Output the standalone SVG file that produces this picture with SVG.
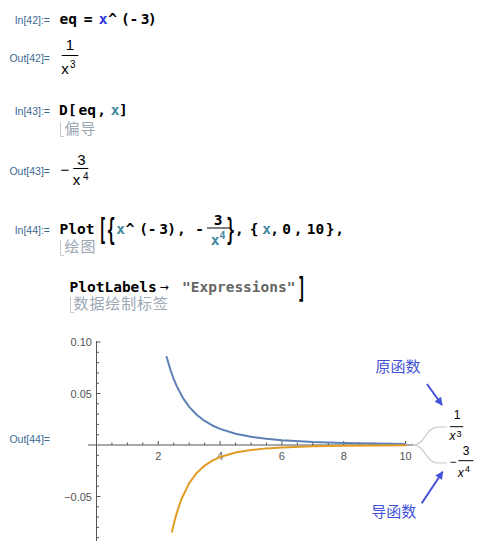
<svg xmlns="http://www.w3.org/2000/svg" width="490" height="546" viewBox="0 0 490 546">
<style>
.lbl{font-family:"Liberation Sans",Arial,sans-serif;font-size:10.5px;fill:#3b6a90;text-anchor:end}
.code{font-family:"DejaVu Sans Mono",monospace;font-weight:bold;font-size:14.5px;fill:#000}
.m{text-anchor:middle}
.gx{fill:#2a36e0}
.lx{fill:#43899e}
.str{fill:#666}
.cmt{font-family:"Noto Sans CJK SC",sans-serif;font-size:15px;fill:#9ca7b4;letter-spacing:0.9px}
.brk{fill:none;stroke:#c9c9c9;stroke-width:1}
.out{font-family:"Liberation Sans",Arial,sans-serif;font-size:15px;fill:#000}
.leg{font-family:"Liberation Sans",Arial,sans-serif;font-size:12px;fill:#000}
.it{font-style:italic}
.sup{font-size:10px}
.lsup{font-size:9px}
.bar{stroke:#000;stroke-width:1}
.axis{stroke:#555;stroke-width:1;fill:none}
.tick{font-family:"Liberation Sans",Arial,sans-serif;font-size:11px;fill:#555}
.ann{font-family:"Noto Sans CJK SC",sans-serif;font-size:15px;fill:#4352d6}
.arrow{stroke:#4352d6;stroke-width:2;fill:none}
.conn{stroke:#c8c8c8;stroke-width:1.2;fill:none}
.curve{fill:none;stroke-width:2;stroke-linejoin:round;stroke-linecap:round}
</style>
<defs>
<marker id="ah" viewBox="0 0 10 10" refX="9" refY="5" markerWidth="4.5" markerHeight="4" orient="auto" markerUnits="strokeWidth"><path d="M0,0 L10,5 L0,10 z" fill="#4352d6"/></marker>
</defs>
<rect width="490" height="546" fill="#fff"/>

<g id="cell42">
<text class="lbl" x="50" y="23.5">In[42]:=</text>
<text class="code" x="59.5" y="24">eq</text>
<text class="code m" x="88" y="24">=</text>
<text class="code m gx" x="103" y="24">x</text>
<text class="code m" x="112.5" y="24">^</text>
<text class="code m" x="125.3" y="24">(</text>
<text class="code m" x="133.8" y="24">-</text>
<text class="code m" x="145" y="24">3</text>
<text class="code m" x="152.3" y="24">)</text>
<text class="lbl" x="50" y="62">Out[42]=</text>
<text class="out m" x="70" y="49.7">1</text>
<line class="bar" x1="61.7" y1="55.5" x2="78.3" y2="55.5"/>
<text class="out" x="61.3" y="73.7">x</text>
<text class="out sup" x="70" y="68">3</text>
</g>

<g id="cell43">
<text class="lbl" x="50" y="115">In[43]:=</text>
<text class="code m" x="63.3" y="115">D</text>
<text class="code m" x="72.3" y="115">[</text>
<text class="code" x="78.5" y="115">eq</text>
<text class="code m" x="101.5" y="115">,</text>
<text class="code m lx" x="115" y="115">x</text>
<text class="code m" x="123.3" y="115">]</text>
<path class="brk" d="M60.5,122 V136.5 H64"/>
<text class="cmt" x="64.5" y="133.5">偏导</text>
<text class="lbl" x="50" y="175">Out[43]=</text>
<text class="out" x="60.5" y="175">−</text>
<text class="out m" x="81.5" y="165">3</text>
<line class="bar" x1="73.3" y1="168.5" x2="88.3" y2="168.5"/>
<text class="out" x="72.8" y="185">x</text>
<text class="out sup" x="83" y="180">4</text>
</g>

<g id="cell44">
<text class="lbl" x="50" y="234">In[44]:=</text>
<text class="code" x="59.5" y="234">Plot</text>
<text class="code m" transform="translate(102.5,240) scale(1,2.1)">[</text>
<text class="code m" transform="translate(111,240) scale(1,2.1)">{</text>
<text class="code m lx" x="120.5" y="234">x</text>
<text class="code m" x="130" y="234">^</text>
<text class="code m" x="143.5" y="234">(</text>
<text class="code m" x="152" y="234">-</text>
<text class="code m" x="163.5" y="234">3</text>
<text class="code m" x="171.5" y="234">)</text>
<text class="code m" x="181.3" y="234">,</text>
<text class="code m" x="199.5" y="234">-</text>
<text class="code m" x="218" y="224.5">3</text>
<line class="bar" x1="207" y1="228" x2="230" y2="228"/>
<text class="code m lx" x="215" y="245">x</text>
<text class="code m lx" style="font-size:10px" x="222.5" y="238.5">4</text>
<text class="code m" transform="translate(230.5,240) scale(1,2.1)">}</text>
<text class="code m" x="239.3" y="234">,</text>
<text class="code m" x="254" y="234">{</text>
<text class="code m lx" x="266.7" y="234">x</text>
<text class="code m" x="274.7" y="234">,</text>
<text class="code m" x="286.7" y="234">0</text>
<text class="code m" x="298" y="234">,</text>
<text class="code m" x="315.5" y="234">10</text>
<text class="code m" x="330" y="234">}</text>
<text class="code m" x="339.5" y="234">,</text>
<path class="brk" d="M60.5,240 V255.5 H64"/>
<text class="cmt" x="64.5" y="252">绘图</text>
<text class="code" x="69.5" y="291.5">PlotLabels</text>
<text x="164" y="291" style="font-family:'DejaVu Sans',sans-serif;font-size:11px;text-anchor:middle">→</text>
<text class="code str" x="182" y="291.5">"Expressions"</text>
<text class="code m" transform="translate(301.5,298) scale(1,1.95)">]</text>
<path class="brk" d="M70.5,297 V312.5 H74"/>
<text class="cmt" x="73.5" y="308.5">数据绘制标签</text>
<text class="lbl" x="50" y="442.5">Out[44]=</text>
</g>

<g id="plot">
<path class="axis" d="M88,445 H413 M96.5,341 V541"/>
<path class="axis" d="M111.95,445v-2.5M127.4,445v-2.5M142.85,445v-2.5M173.75,445v-2.5M189.2,445v-2.5M204.65,445v-2.5M235.55,445v-2.5M251,445v-2.5M266.45,445v-2.5M297.35,445v-2.5M312.8,445v-2.5M328.25,445v-2.5M359.15,445v-2.5M374.6,445v-2.5M390.05,445v-2.5"/>
<path class="axis" d="M158.3,445v-4M220.1,445v-4M281.9,445v-4M343.7,445v-4M405.5,445v-4"/>
<path class="axis" d="M96.5,352.3h2.5M96.5,362.6h2.5M96.5,372.9h2.5M96.5,383.2h2.5M96.5,403.8h2.5M96.5,414.1h2.5M96.5,424.4h2.5M96.5,434.7h2.5M96.5,455.3h2.5M96.5,465.6h2.5M96.5,475.9h2.5M96.5,486.2h2.5M96.5,506.8h2.5M96.5,517.1h2.5M96.5,527.4h2.5M96.5,537.7h2.5"/>
<path class="axis" d="M96.5,342h4M96.5,393.5h4M96.5,496.5h4"/>
<text class="tick m" x="158.3" y="460">2</text>
<text class="tick m" x="220.1" y="460">4</text>
<text class="tick m" x="281.9" y="460">6</text>
<text class="tick m" x="343.7" y="460">8</text>
<text class="tick m" x="405.5" y="460">10</text>
<text class="tick" x="92" y="346" text-anchor="end">0.10</text>
<text class="tick" x="92" y="397.5" text-anchor="end">0.05</text>
<text class="tick" x="92" y="500.5" text-anchor="end">−0.05</text>
<polyline class="curve" stroke="#5e81b5" points="166.64,356.94 170.66,370.49 173.75,379.08 176.84,386.39 183.02,398.08 189.2,406.85 196.93,415.0 204.65,420.98 212.38,425.47 220.1,428.91 235.55,433.7 251,436.76 266.45,438.81 281.9,440.23 312.8,442.0 343.7,442.99 374.6,443.59 405.5,443.97"/>
<polyline class="curve" stroke="#e19c24" points="171.99,531.75 173.75,524.1 176.84,512.62 181.48,499.03 189.2,483.15 196.93,472.7 204.65,465.59 212.38,460.63 220.1,457.07 235.55,452.54 251,449.94 266.45,448.38 281.9,447.38 312.8,446.29 343.7,445.75 374.6,445.47 405.5,445.31"/>
</g>

<g id="legend">
<path class="conn" d="M413,445 C425,445 426,427 438,427 H447"/>
<path class="conn" d="M413,445 C425,445 426,463 438,463 H447"/>
<text class="leg m" x="457" y="418.5">1</text>
<line class="bar" x1="450" y1="426.7" x2="463.3" y2="426.7"/>
<text class="leg it" x="449.5" y="440">x</text>
<text class="leg lsup" x="456.5" y="436.7">3</text>
<text class="leg" x="449.5" y="466">−</text>
<text class="leg m" x="466" y="455">3</text>
<line class="bar" x1="458.3" y1="460.7" x2="473.3" y2="460.7"/>
<text class="leg it" x="457.8" y="476.5">x</text>
<text class="leg lsup" x="465" y="471.7">4</text>
</g>

<g id="annotations">
<text class="ann" x="375.5" y="372">原函数</text>
<line class="arrow" x1="427" y1="384" x2="442" y2="405" marker-end="url(#ah)"/>
<text class="ann" x="371.2" y="517">导函数</text>
<line class="arrow" x1="421.7" y1="503.3" x2="442.7" y2="471.7" marker-end="url(#ah)"/>
</g>
</svg>
